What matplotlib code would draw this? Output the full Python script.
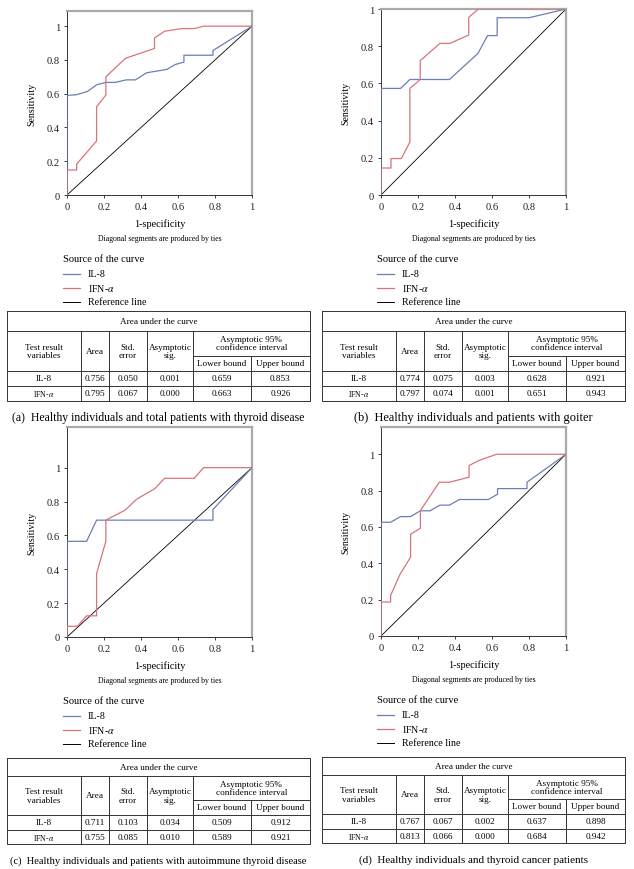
"""
Curvas ROC de IL-8 e IFN-alfa em quatro grupos, com tabela de AUC
"""

import matplotlib
matplotlib.use("Agg")
import matplotlib.pyplot as plt

plt.rcParams['font.family'] = ['Liberation Serif', 'DejaVu Serif']
plt.rcParams['mathtext.fontset'] = 'stix'

W, H = 634, 870

# --- dados (1-especificidade, sensibilidade) ---
il8_x_a = [0, 0, 0.05, 0.11, 0.16, 0.21, 0.26, 0.32, 0.37, 0.43, 0.54, 0.585, 0.632, 0.632, 0.789, 0.789, 1]
il8_y_a = [0, 0.59, 0.594, 0.613, 0.653, 0.667, 0.667, 0.682, 0.682, 0.724, 0.744, 0.773, 0.787, 0.828, 0.828, 0.856, 1]
ifn_x_a = [0, 0, 0.052, 0.052, 0.16, 0.16, 0.21, 0.21, 0.316, 0.473, 0.473, 0.527, 0.62, 0.69, 0.738, 1]
ifn_y_a = [0, 0.148, 0.148, 0.183, 0.32, 0.523, 0.592, 0.70, 0.81, 0.868, 0.93, 0.97, 0.986, 0.986, 1, 1]

il8_x_b = [0, 0, 0.106, 0.156, 0.37, 0.524, 0.576, 0.628, 0.628, 0.80, 1]
il8_y_b = [0, 0.573, 0.573, 0.621, 0.621, 0.761, 0.857, 0.857, 0.953, 0.953, 1]
ifn_x_b = [0, 0, 0.054, 0.054, 0.11, 0.156, 0.156, 0.212, 0.212, 0.318, 0.372, 0.474, 0.474, 0.526, 1]
ifn_y_b = [0, 0.145, 0.145, 0.196, 0.196, 0.285, 0.573, 0.621, 0.722, 0.815, 0.815, 0.86, 0.955, 1, 1]

il8_x_c = [0, 0, 0.106, 0.16, 0.789, 0.789, 1]
il8_y_c = [0, 0.565, 0.565, 0.69, 0.69, 0.753, 1]
ifn_x_c = [0, 0, 0.056, 0.106, 0.16, 0.16, 0.21, 0.21, 0.314, 0.377, 0.476, 0.527, 0.688, 0.738, 1]
ifn_y_c = [0, 0.063, 0.063, 0.125, 0.125, 0.375, 0.565, 0.69, 0.749, 0.814, 0.877, 0.937, 0.937, 1, 1]

il8_x_d = [0, 0, 0.052, 0.106, 0.16, 0.213, 0.265, 0.319, 0.37, 0.423, 0.58, 0.63, 0.63, 0.789, 0.789, 1]
il8_y_d = [0, 0.626, 0.626, 0.657, 0.657, 0.689, 0.689, 0.72, 0.72, 0.751, 0.751, 0.78, 0.811, 0.811, 0.846, 1]
ifn_x_d = [0, 0, 0.052, 0.052, 0.103, 0.16, 0.16, 0.213, 0.213, 0.315, 0.37, 0.476, 0.476, 0.532, 0.625, 1]
ifn_y_d = [0, 0.187, 0.187, 0.223, 0.34, 0.434, 0.56, 0.593, 0.69, 0.846, 0.846, 0.874, 0.938, 0.967, 1, 1]

# --- tabelas de area sob a curva ---
auc_a = [['0.756', '0.050', '0.001', '0.659', '0.853'],
         ['0.795', '0.067', '0.000', '0.663', '0.926']]
auc_b = [['0.774', '0.075', '0.003', '0.628', '0.921'],
         ['0.797', '0.074', '0.001', '0.651', '0.943']]
auc_c = [['0.711', '0.103', '0.034', '0.509', '0.912'],
         ['0.755', '0.085', '0.010', '0.589', '0.921']]
auc_d = [['0.767', '0.067', '0.002', '0.637', '0.898'],
         ['0.813', '0.066', '0.000', '0.684', '0.942']]

captions = ['(a)  Healthy individuals and total patients with thyroid disease',
            '(b)  Healthy individuals and patients with goiter',
            '(c)  Healthy individuals and patients with autoimmune thyroid disease',
            '(d)  Healthy individuals and thyroid cancer patients']
caption_sizes = [8.5, 8.9, 7.6, 8.0]

ticks = [0, 0.2, 0.4, 0.6, 0.8, 1]
tick_labels = ['0', '0.2', '0.4', '0.6', '0.8', '1']

BLUE = '#6a7fb3'
RED = '#d9737b'

# posicoes dos paineis em pixels: (esquerda, topo, base, ylim superior, x da tabela)
panels = [
    (67, 12, 196, 1.09, 7),
    (381, 10, 196, 1.0, 322),
    (67, 428, 638, 1.24, 7),
    (381, 428, 637, 1.15, 322),
]
curves = [
    (il8_x_a, il8_y_a, ifn_x_a, ifn_y_a),
    (il8_x_b, il8_y_b, ifn_x_b, ifn_y_b),
    (il8_x_c, il8_y_c, ifn_x_c, ifn_y_c),
    (il8_x_d, il8_y_d, ifn_x_d, ifn_y_d),
]
tables = [auc_a, auc_b, auc_c, auc_d]

fig = plt.figure(figsize=(W / 100, H / 100), dpi=100)

# eixo de fundo em pixels para textos e tabelas
bg = fig.add_axes([0, 0, 1, 1])
bg.set_xlim(0, W)
bg.set_ylim(H, 0)
bg.axis('off')

col_w = [74, 28, 38, 46, 58, 59]


def draw_table(x0, y0, rows, rh):
    xs = [x0]
    for w in col_w:
        xs.append(xs[-1] + w)
    ys = [y0]
    for h in rh:
        ys.append(ys[-1] + h)
    lw = 0.7
    c = '#333333'
    # moldura externa
    bg.plot([xs[0], xs[-1], xs[-1], xs[0], xs[0]], [ys[0], ys[0], ys[-1], ys[-1], ys[0]], color=c, lw=lw)
    # linhas horizontais
    for k in (1, 3, 4):
        bg.plot([xs[0], xs[-1]], [ys[k], ys[k]], color=c, lw=lw)
    bg.plot([xs[4], xs[-1]], [ys[2], ys[2]], color=c, lw=lw)
    # linhas verticais
    for k in (1, 2, 3, 4):
        bg.plot([xs[k], xs[k]], [ys[1], ys[-1]], color=c, lw=lw)
    bg.plot([xs[5], xs[5]], [ys[2], ys[-1]], color=c, lw=lw)

    fs = 6.6
    mid = lambda a, b: (a + b) / 2
    bg.text(mid(xs[0], xs[-1]), mid(ys[0], ys[1]), 'Area under the curve', ha='center', va='center', fontsize=fs)
    hy = mid(ys[1], ys[3])
    bg.text(mid(xs[0], xs[1]), hy, 'Test result\nvariables', ha='center', va='center', fontsize=fs, linespacing=1.15)
    bg.text(mid(xs[1], xs[2]), hy, 'Area', ha='center', va='center', fontsize=fs)
    bg.text(mid(xs[2], xs[3]), hy, 'Std.\nerror', ha='center', va='center', fontsize=fs, linespacing=1.15)
    bg.text(mid(xs[3], xs[4]), hy, 'Asymptotic\nsig.', ha='center', va='center', fontsize=fs, linespacing=1.15)
    bg.text(mid(xs[4], xs[6]), mid(ys[1], ys[2]), 'Asymptotic 95%\nconfidence interval',
            ha='center', va='center', fontsize=fs, linespacing=1.0)
    bg.text(mid(xs[4], xs[5]), mid(ys[2], ys[3]), 'Lower bound', ha='center', va='center', fontsize=fs)
    bg.text(mid(xs[5], xs[6]), mid(ys[2], ys[3]), 'Upper bound', ha='center', va='center', fontsize=fs)
    names = ['IL-8', r'IFN-$\alpha$']
    for r, row in enumerate(rows):
        cy = mid(ys[3 + r], ys[4 + r])
        bg.text(mid(xs[0], xs[1]), cy, names[r], ha='center', va='center',
                fontsize=fs if r == 0 else fs - 1)
        for k, v in enumerate(row):
            bg.text(mid(xs[k + 1], xs[k + 2]), cy, v, ha='center', va='center', fontsize=fs)
    return xs, ys


for i, (left, top, bottom, ytop, tx) in enumerate(panels):
    width = 185
    ax = fig.add_axes([left / W, 1 - bottom / H, width / W, (bottom - top) / H])
    il8x, il8y, ifnx, ifny = curves[i]
    ax.plot([0, 1], [0, 1], color='black', lw=0.6, zorder=2)
    ax.plot(il8x, il8y, color=BLUE, lw=0.9, zorder=3)
    ax.plot(ifnx, ifny, color=RED, lw=0.9, zorder=3)
    ax.set_xlim(0, 1)
    ax.set_ylim(0, ytop)
    ax.set_xticks(ticks)
    ax.set_xticklabels(tick_labels)
    ax.set_yticks(ticks)
    ax.set_yticklabels(tick_labels)
    ax.tick_params(labelsize=7.6, length=2, width=0.6, pad=3, colors='#222222')
    for s in ('left', 'bottom'):
        ax.spines[s].set_color('#333333')
        ax.spines[s].set_linewidth(0.7)
    for s in ('top', 'right'):
        ax.spines[s].set_color('#aaaaaa')
        ax.spines[s].set_linewidth(1.6)
    ax.set_ylabel('Sensitivity', fontsize=7.1)
    ax.yaxis.set_label_coords(-0.165, 0.5)

    cx = left + width / 2
    bg.text(cx, bottom + 28, '1-specificity', ha='center', va='center', fontsize=7.4)
    bg.text(cx, bottom + 43, 'Diagonal segments are produced by ties', ha='center', va='center', fontsize=5.6)
    lx = left - 4
    bg.text(lx, bottom + 64, 'Source of the curve', ha='left', va='center', fontsize=7.5)
    for k, (lab, col) in enumerate([('IL-8', BLUE), (r'IFN-$\alpha$', RED), ('Reference line', 'black')]):
        ly = bottom + 79 + k * 14
        bg.plot([lx, lx + 17], [ly, ly], color=col, lw=0.9 if k < 2 else 0.7)
        bg.text(lx + 25, ly, lab, ha='left', va='center', fontsize=7.2)

    if i < 2:
        ty, rh = bottom + 116, [20, 25, 15, 15, 15]
    else:
        ty, rh = bottom + 121, [18, 24, 15, 15, 14]
    xs, ys = draw_table(tx, ty, tables[i], rh)
    bg.text((xs[0] + xs[-1]) / 2, ys[-1] + 16, captions[i], ha='center', va='center',
            fontsize=caption_sizes[i])

fig.savefig('out.png', dpi=100)
